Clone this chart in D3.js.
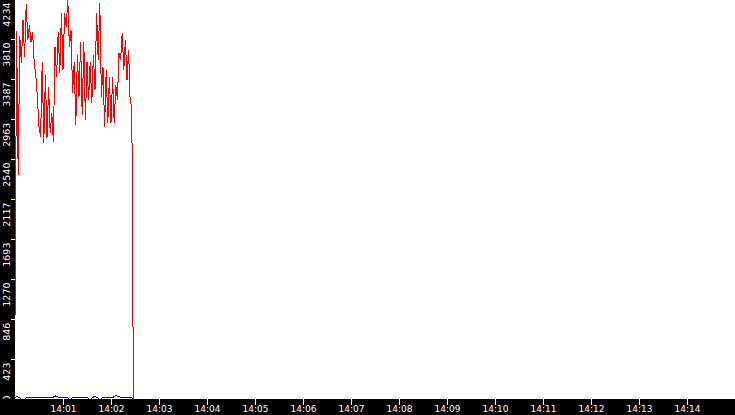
<!DOCTYPE html>
<html>
<head>
<meta charset="utf-8">
<script src="https://cdn.jsdelivr.net/npm/d3@7"></script>
<style>
  html, body { margin: 0; padding: 0; background: #fff; overflow: hidden; }
  svg { display: block; }
</style>
</head>
<body>
<svg id="chart" width="735" height="415"></svg>
<script>
"use strict";

// === Data ===
const startTime = "14:00:00";
const endTime = "14:15:00";

// red series, one sample every redStep seconds from startTime
const redStep = 2;
const redValues = [
  836, 3895, 2371, 3842, 3557, 4012, 3620, 4181, 3800, 3959,
  3779, 3885, 3567, 3430, 3197, 2879, 2773, 3567, 2710, 3430,
  2763, 3303, 2816, 3027, 2720, 3726, 3408, 3885, 3451, 4086,
  3482, 4086, 3938, 4223, 3726, 3906, 3239, 3567, 2900, 3641,
  3197, 3779, 3006, 3779, 2953, 3567, 3165, 3567, 3133, 3641,
  3271, 4086, 3588, 4192, 3197, 3514, 2879, 3482, 2921, 3408,
  2921, 3408, 2921, 3324, 3165, 3662, 3588, 3874, 3482, 3800,
  3377, 3694, 3133, 3112, 0
];

// blue series, one sample every blueStep seconds from startTime
const blueStep = 2.5;
const blueValues = [
  18, 24, 16, 0, 0, 0, 18, 14, 20, 16,
  22, 18, 20, 16, 22, 18, 20, 16, 22, 18,
  34, 26, 18, 20, 16, 20, 16, 0, 0, 18,
  20, 16, 20, 18, 20, 16, 20, 0, 0, 18,
  29, 16, 0, 0, 20, 18, 22, 16, 20, 18,
  34, 32, 24, 18, 22, 16, 20, 18, 20, 0
];

const yTicks = [0, 423, 846, 1270, 1693, 2117, 2540, 2963, 3387, 3810, 4234];
const xTickLabels = ["14:01", "14:02", "14:03", "14:04", "14:05", "14:06", "14:07",
  "14:08", "14:09", "14:10", "14:11", "14:12", "14:13", "14:14"];

// === Setup ===
const W = 735, H = 415;
const left = 15, bottom = 399;
const parseTime = d3.timeParse("%H:%M:%S");
const parseTick = d3.timeParse("%H:%M");
const t0 = parseTime(startTime);

let svg = d3.select("#chart");

let x = d3.scaleTime()
  .domain([t0, parseTime(endTime)])
  .range([left, W]);

let y = d3.scaleLinear()
  .domain([0, 4234])
  .range([bottom, -1]);

function timeAt(i, step) {
  return new Date(t0.getTime() + i * step * 1000);
}

// background
svg.append("rect")
  .attr("width", W)
  .attr("height", H)
  .attr("fill", "#fff");

// === Lines ===
let blueLine = d3.line()
  .x((d, i) => x(timeAt(i, blueStep)))
  .y(d => y(d));

let redLine = d3.line()
  .x((d, i) => x(timeAt(i, redStep)))
  .y(d => y(d));

svg.append("path")
  .datum(blueValues)
  .attr("d", blueLine)
  .attr("fill", "none")
  .attr("stroke", "#0000ff")
  .attr("stroke-width", 1)
  .attr("shape-rendering", "crispEdges");

svg.append("path")
  .datum(redValues)
  .attr("d", redLine)
  .attr("fill", "none")
  .attr("stroke", "#ff0000")
  .attr("stroke-width", 1)
  .attr("shape-rendering", "crispEdges");

// === Axis bands ===
svg.append("rect")
  .attr("x", 0).attr("y", 0)
  .attr("width", left).attr("height", H)
  .attr("fill", "#000");

svg.append("rect")
  .attr("x", 0).attr("y", bottom)
  .attr("width", W).attr("height", H - bottom)
  .attr("fill", "#000");

// === Bottom axis ===
let xAxis = svg.append("g")
  .attr("transform", `translate(0,${bottom})`)
  .call(d3.axisBottom(x)
    .tickValues(xTickLabels.map(parseTick))
    .tickSize(6)
    .tickFormat(d3.timeFormat("%H:%M")));

xAxis.select(".domain").remove();
xAxis.selectAll("line").attr("stroke", "#fff").attr("shape-rendering", "crispEdges");
xAxis.selectAll("text")
  .attr("y", 12.5)
  .attr("dy", null)
  .attr("fill", "#fff")
  .style("font-family", "'DejaVu Sans', sans-serif")
  .style("font-size", "9px");

// === Left axis ===
let yAxis = svg.append("g")
  .attr("transform", `translate(${left},0)`)
  .call(d3.axisLeft(y)
    .tickValues(yTicks)
    .tickSize(4)
    .tickFormat(d3.format("d")));

yAxis.select(".domain").remove();
yAxis.selectAll("line").attr("stroke", "#fff").attr("shape-rendering", "crispEdges");
yAxis.selectAll("text")
  .attr("x", null)
  .attr("dy", null)
  .attr("text-anchor", "end")
  .attr("transform", d => {
    let off = Math.min(y(d) + 3, 395) - y(d);
    return `translate(-5.5,${off}) rotate(-90)`;
  })
  .attr("fill", "#fff")
  .style("font-family", "'DejaVu Sans', sans-serif")
  .style("font-size", "9.5px");

// keep the bottom band over the partly hidden zero label
svg.append("rect")
  .attr("x", 0).attr("y", bottom)
  .attr("width", left).attr("height", H - bottom)
  .attr("fill", "#000");
</script>
</body>
</html>
